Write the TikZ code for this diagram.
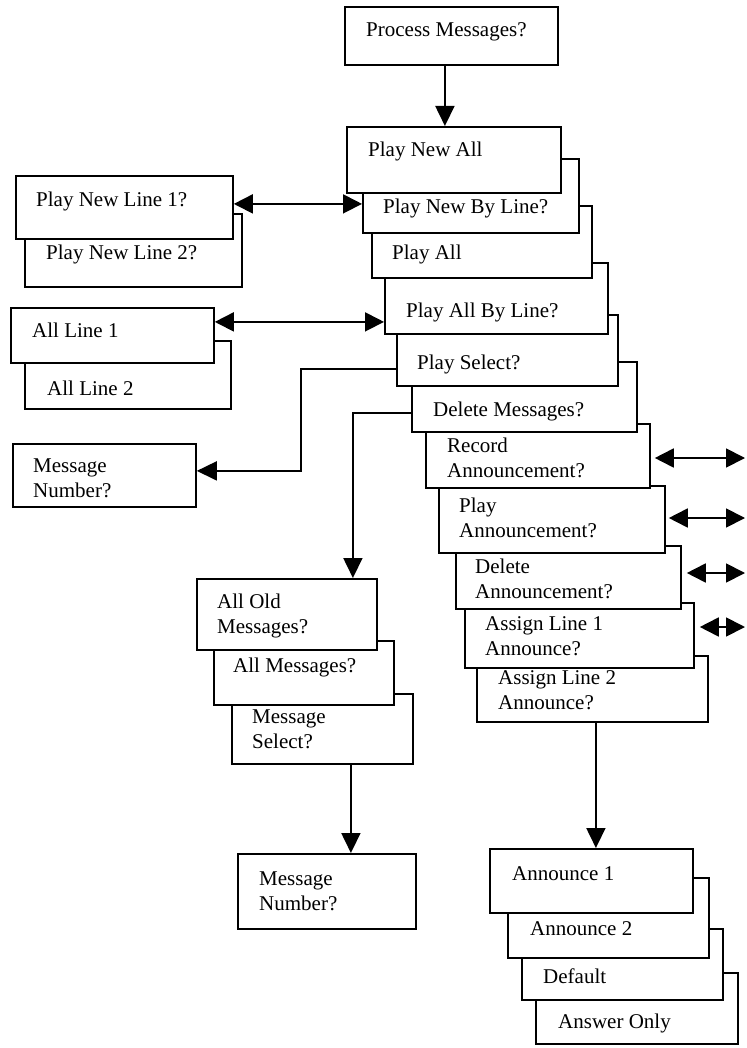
\documentclass[tikz,border=0pt]{standalone}
\usepackage{fontspec}
\setmainfont{Liberation Serif}
\usetikzlibrary{arrows.meta}

\tikzset{
  card/.style={draw, fill=white, line width=1.8pt, inner sep=0pt, anchor=north west},
  lbl/.style={anchor=base west, inner sep=0pt, align=left,
              font=\fontsize{21}{24.5}\selectfont},
  arr/.style={line width=1.8pt, -{Triangle[length=20pt,width=19pt]}},
  darr/.style={line width=1.8pt,
    {Triangle[length=19pt,width=19pt]}-{Triangle[length=19pt,width=19pt]}},
}

% \card{name}{x1}{y1}{x2}{y2}{text x}{baseline of last text line}{text}
\newcommand\card[8]{%
  \pgfmathsetmacro\cardw{#4-#2}%
  \pgfmathsetmacro\cardh{#5-#3}%
  \node[card, minimum width=\cardw pt, minimum height=\cardh pt] (#1) at (#2,#3) {};
  \node[lbl] (#1-t) at (#6,#7) {#8};
}

\begin{document}
\begin{tikzpicture}[x=1pt, y=-1pt]
  \useasboundingbox (0,0) rectangle (746,1048);

  % top question
  \card{pm}{344}{6}{557}{64}{366}{37}{Process Messages?}

  % main menu cascade (back cards first)
  \card{al2}{476}{655}{707}{721}{498}{709}{Assign Line 2\\Announce?}
  \card{al1}{464}{602}{693}{667}{485}{655}{Assign Line 1\\Announce?}
  \card{da}{455}{545}{680}{608}{475}{598}{Delete\\Announcement?}
  \card{pan}{438}{485}{664}{552}{459}{537}{Play\\Announcement?}
  \card{ra}{425}{423}{649}{487}{447}{477}{Record\\Announcement?}
  \card{dm}{411}{361}{636}{431}{433}{416}{Delete Messages?}
  \card{ps}{396}{314}{617}{385}{417}{369}{Play Select?}
  \card{pabl}{384}{262}{607}{333}{406}{317}{Play All By Line?}
  \card{pa}{371}{205}{591}{277}{392}{260}{Play All}
  \card{pnbl}{362}{158}{578}{232}{383}{214}{Play New By Line?}
  \card{pna}{346}{126}{560}{192}{368}{157}{Play New All}

  % line choices for new messages
  \card{pnl2}{24}{213}{241}{286}{46}{260}{Play New Line 2?}
  \card{pnl1}{15}{175}{232}{238}{36}{207}{Play New Line 1?}

  % line choices for all messages
  \card{alb2}{24}{340}{230}{408}{47}{395}{All Line 2}
  \card{alb1}{10}{307}{213}{362}{32}{337}{All Line 1}

  % message number for play select
  \card{mn1}{12}{443}{195}{506}{33}{497}{Message\\Number?}

  % delete choices
  \card{ms}{231}{693}{412}{763}{252}{748}{Message\\Select?}
  \card{am}{213}{640}{393}{704}{233}{672}{All Messages?}
  \card{aom}{196}{578}{376}{649}{217}{633}{All Old\\Messages?}
  \card{mn2}{237}{853}{415}{928}{259}{910}{Message\\Number?}

  % announcement choices
  \card{ao}{535}{972}{737}{1043}{558}{1028}{Answer Only}
  \card{def}{521}{928}{722}{999}{543}{983}{Default}
  \card{an2}{507}{877}{708}{957}{530}{935}{Announce 2}
  \card{an1}{489}{848}{692}{912}{512}{880}{Announce 1}

  % connectors
  \draw[arr] ([xshift=-6.5pt]pm.south) -- ([xshift=-6.5pt]pm.south |- pna.north);
  \draw[darr] ([yshift=3.5pt]pnl1.east) -- ([yshift=3.5pt]pnl1.east -| pnbl.west);
  \draw[darr] ([yshift=13.5pt]alb1.east) -- ([yshift=13.5pt]alb1.east -| pabl.west);
  \draw[arr] ([yshift=-18.5pt]ps.west) -- ++(-95,0) |- ([yshift=4.5pt]mn1.east);
  \draw[arr] ([yshift=-16pt]dm.west) -| ([xshift=66pt]aom.north);
  \draw[arr] ([xshift=28.5pt]ms.south) -- ([xshift=28.5pt]ms.south |- mn2.north);
  \draw[arr] ([xshift=3.5pt]al2.south) -- ([xshift=3.5pt]al2.south |- an1.north);

  % links leading off to the right
  \coordinate (ra-out) at (745,458);
  \coordinate (pan-out) at (745,518);
  \coordinate (da-out) at (745,573);
  \coordinate (al1-out) at (745,627);
  \draw[darr] ([xshift=4pt]ra.east |- ra-out) -- (ra-out);
  \draw[darr] ([xshift=3pt]pan.east |- pan-out) -- (pan-out);
  \draw[darr] ([xshift=5pt]da.east |- da-out) -- (da-out);
  \draw[darr] ([xshift=5pt]al1.east |- al1-out) -- (al1-out);
\end{tikzpicture}
\end{document}
